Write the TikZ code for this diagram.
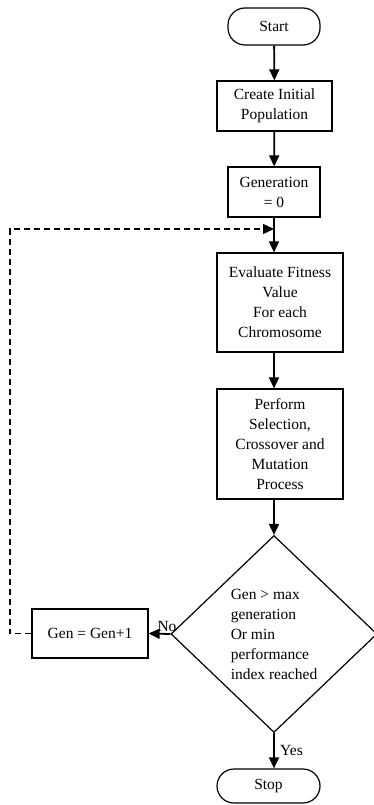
\documentclass[tikz,border=0pt]{standalone}
\usepackage{fontspec}
\setmainfont{Liberation Serif}
\usetikzlibrary{arrows.meta,shapes.geometric}

\begin{document}
\begin{tikzpicture}[
  x=1pt,y=-1pt,
  flow/.style={-{Triangle[length=11pt,width=10pt]},line width=1.8pt},
  loopback/.style={-{Triangle[length=11pt,width=10pt]},line width=1.4pt,dash pattern=on 6pt off 4pt},
  procbox/.style={draw,line width=1.2pt,inner sep=0pt,align=center},
  terminal/.style={draw,line width=1.2pt,inner sep=0pt,rounded corners=17pt},
  decision/.style={draw,diamond,line width=1.2pt,inner sep=0pt,align=left},
  every node/.style={font=\fontsize{15.5}{20}\selectfont}
]
  \useasboundingbox (0,0) rectangle (374,805);

  \node[terminal,minimum width=92pt,minimum height=37pt] (start) at (274,26.5) {Start};
  \node[procbox,minimum width=115pt,minimum height=50pt] (init) at (274.5,106) {Create Initial\\Population};
  \node[procbox,minimum width=92pt,minimum height=50pt] (gen0) at (274,192) {Generation\\= 0};
  \node[procbox,minimum width=126pt,minimum height=99pt] (eval) at (280,302.5)
    {Evaluate Fitness\\Value\\For each\\Chromosome};
  \node[procbox,minimum width=126pt,minimum height=110pt] (perf) at (280,444)
    {Perform\\Selection,\\Crossover and\\Mutation\\Process};
  \node[decision,minimum width=206pt,minimum height=197pt] (check) at (274,634)
    {Gen > max\\generation\\Or min\\performance\\index reached};
  \node[procbox,minimum width=116pt,minimum height=49pt] (incr) at (90,633.5) {Gen = Gen+1};
  \node[terminal,minimum width=103pt,minimum height=34pt] (stop) at (268.5,786) {Stop};

  \coordinate (loopx) at (10,229);
  \coordinate (join) at (274,229);

  \draw[flow] (start) -- (init);
  \draw[flow] (init) -- (gen0);
  \draw[flow] (gen0) -- (gen0 |- eval.north);
  \draw[flow] (eval.south -| start) -- (perf.north -| start);
  \draw[flow] (perf.south -| start) -- (check.north);
  \draw[flow] (check.west) -- (incr.east);
  \draw[flow] (check.south) -- (check.south |- stop.north)
    node[midway,right=2pt] {Yes};
  \draw[loopback] (incr.west) -| (loopx) -- (join);

  \node (no) at (167,626) {No};
\end{tikzpicture}
\end{document}
